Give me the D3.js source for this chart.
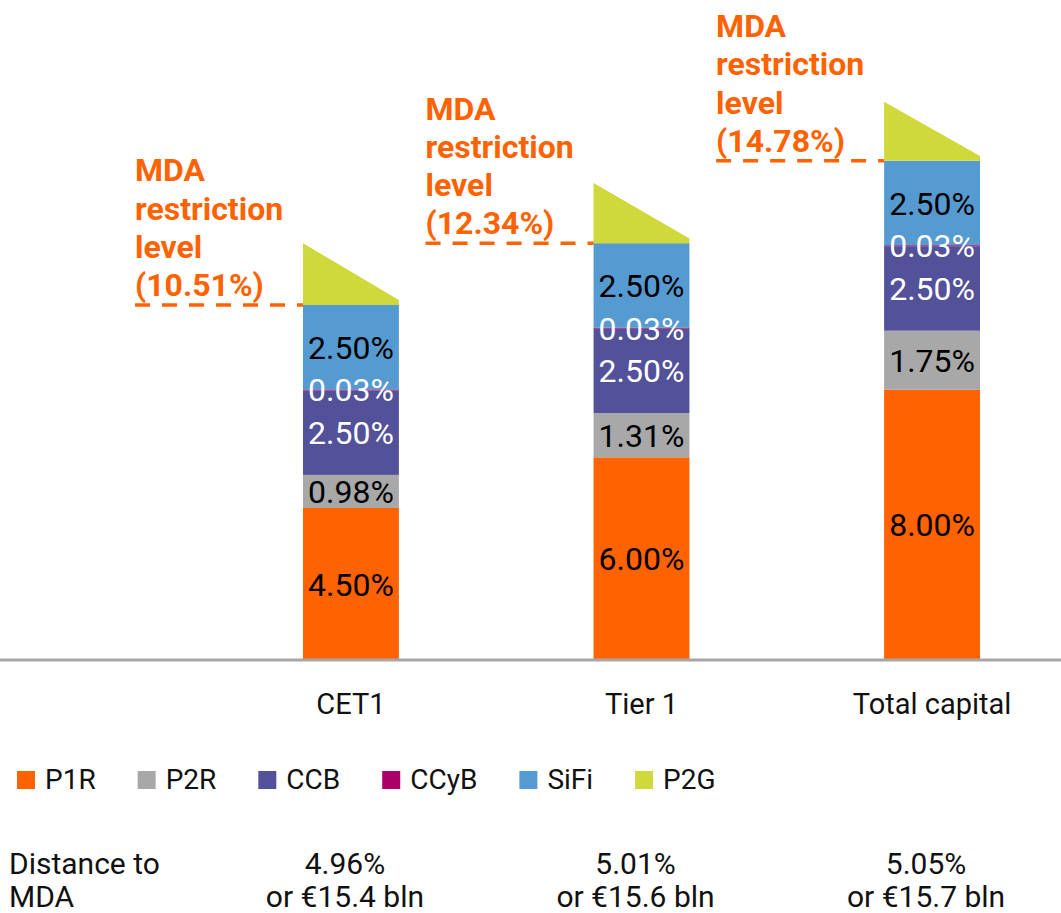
<!DOCTYPE html>
<html>
<head>
<meta charset="utf-8">
<script src="https://cdn.jsdelivr.net/npm/d3@7"></script>
<style>
  body { margin: 0; background: #fff; }
  svg { display: block; font-family: Roboto, "Open Sans", sans-serif; }
</style>
</head>
<body>
<svg id="chart" width="1061" height="913"></svg>
<script>
"use strict"
// data (% of RWA)
var categories = ["CET1", "Tier 1", "Total capital"];
var keys = ["P1R", "P2R", "CCB", "CCyB", "SiFi"];
var p1r  = [4.50, 6.00, 8.00];
var p2r  = [0.98, 1.31, 1.75];
var ccb  = [2.50, 2.50, 2.50];
var ccyb = [0.03, 0.03, 0.03];
var sifi = [2.50, 2.50, 2.50];
var p2g  = [1.83, 1.78, 1.75];
var legendLabels = ["P1R", "P2R", "CCB", "CCyB", "SiFi", "P2G"];
var distancePct = ["4.96%", "5.01%", "5.05%"];
var distanceBln = ["or €15.4 bln", "or €15.6 bln", "or €15.7 bln"];

var colors = {P1R: "#ff6200", P2R: "#a8a8a8", CCB: "#525199", CCyB: "#ab0066", SiFi: "#559bd1", P2G: "#d0d93c"};
var labelColors = {P1R: "#000", P2R: "#000", CCB: "#fff", CCyB: "#fff", SiFi: "#000"};
var orange = "#ff6200";

var svg = d3.select("svg#chart"),
    width = +svg.attr("width"),
    height = +svg.attr("height");

var rows = categories.map(function(c, i) {
  return {cat: c, P1R: p1r[i], P2R: p2r[i], CCB: ccb[i], CCyB: ccyb[i], SiFi: sifi[i], P2G: p2g[i]};
});

var x = d3.scaleBand()
    .domain(categories)
    .range([303, 980])
    .paddingInner(0.67)
    .paddingOuter(0);

var y = d3.scaleLinear()
    .domain([0, 19.54])
    .range([660, 0]);

var stack = d3.stack().keys(keys)(rows);
var fmt = d3.format(".2f");

// stacked bars
var layer = svg.append("g").attr("class", "bars")
  .selectAll("g")
    .data(stack)
  .enter().append("g")
    .attr("fill", function(d) { return colors[d.key]; });

layer.selectAll("rect")
    .data(function(d) { return d; })
  .enter().append("rect")
    .attr("x", function(d) { return x(d.data.cat); })
    .attr("width", x.bandwidth())
    .attr("y", function(d) { return y(d[1]); })
    .attr("height", function(d) { return y(d[0]) - y(d[1]); });

// P2G wedge on top
var tops = rows.map(function(r) { return d3.sum(keys, function(k) { return r[k]; }); });
svg.append("g").attr("class", "p2g")
  .selectAll("path")
    .data(rows)
  .enter().append("path")
    .attr("fill", colors.P2G)
    .attr("d", function(d, i) {
      var x0 = x(d.cat), x1 = x0 + x.bandwidth();
      var yb = y(tops[i]), yt = y(tops[i] + d.P2G);
      var yr = yb - (yb - yt) * 0.08;
      return "M" + x0 + "," + yb + "L" + x0 + "," + yt + "L" + x1 + "," + yr + "L" + x1 + "," + yb + "Z";
    });

// segment labels
stack.forEach(function(s) {
  svg.append("g")
    .selectAll("text")
      .data(s)
    .enter().append("text")
      .attr("x", function(d) { return x(d.data.cat) + x.bandwidth() / 2; })
      .attr("y", function(d) { return (y(d[0]) + y(d[1])) / 2; })
      .attr("dy", "0.36em")
      .attr("text-anchor", "middle")
      .attr("font-size", 32)
      .attr("fill", labelColors[s.key])
      .text(function(d) { return fmt(d[1] - d[0]) + "%"; });
});

// axis baseline
svg.append("line")
    .attr("x1", 0).attr("x2", width)
    .attr("y1", y(0)).attr("y2", y(0))
    .attr("stroke", "#a6a6a6")
    .attr("stroke-width", 3);

// category labels
svg.append("g")
  .selectAll("text")
    .data(categories)
  .enter().append("text")
    .attr("x", function(d) { return x(d) + x.bandwidth() / 2; })
    .attr("y", 714)
    .attr("text-anchor", "middle")
    .attr("font-size", 29)
    .attr("fill", "#111")
    .text(function(d) { return d; });

// MDA restriction labels + dashed lines
var mda = svg.append("g").attr("class", "mda")
  .selectAll("g")
    .data(rows)
  .enter().append("g");

mda.append("line")
    .attr("x1", function(d) { return x(d.cat) - 168; })
    .attr("x2", function(d) { return x(d.cat); })
    .attr("y1", function(d, i) { return y(tops[i]); })
    .attr("y2", function(d, i) { return y(tops[i]); })
    .attr("stroke", orange)
    .attr("stroke-width", 3.5)
    .attr("stroke-dasharray", "15,12");

mda.each(function(d, i) {
  var lines = ["MDA", "restriction", "level", "(" + fmt(tops[i]) + "%)"];
  var base = y(tops[i]) - 9;
  d3.select(this).selectAll("text")
      .data(lines)
    .enter().append("text")
      .attr("x", x(d.cat) - 168)
      .attr("y", function(t, j) { return base - (lines.length - 1 - j) * 38.2; })
      .attr("font-size", 32)
      .attr("font-weight", "bold")
      .attr("fill", orange)
      .text(function(t) { return t; });
});

// legend
var lx = 17;
var legend = svg.append("g").attr("class", "legend");
legendLabels.forEach(function(k) {
  legend.append("rect")
      .attr("x", lx).attr("y", 771)
      .attr("width", 18).attr("height", 18)
      .attr("fill", colors[k]);
  var t = legend.append("text")
      .attr("x", lx + 28).attr("y", 789)
      .attr("font-size", 28)
      .attr("fill", "#111")
      .text(k);
  lx = lx + 28 + t.node().getComputedTextLength() + 42;
});

// distance to MDA table
var tbl = svg.append("g").attr("class", "distance").attr("font-size", 30).attr("fill", "#111");
tbl.append("text").attr("x", 9).attr("y", 874).text("Distance to");
tbl.append("text").attr("x", 9).attr("y", 907).text("MDA");

tbl.selectAll("text.pct")
    .data(distancePct)
  .enter().append("text")
    .attr("class", "pct")
    .attr("x", function(d, i) { return x(categories[i]) + x.bandwidth() / 2 - 6; })
    .attr("y", 874)
    .attr("text-anchor", "middle")
    .text(function(d) { return d; });

tbl.selectAll("text.bln")
    .data(distanceBln)
  .enter().append("text")
    .attr("class", "bln")
    .attr("x", function(d, i) { return x(categories[i]) + x.bandwidth() / 2 - 6; })
    .attr("y", 907)
    .attr("text-anchor", "middle")
    .text(function(d) { return d; });
</script>
</body>
</html>
